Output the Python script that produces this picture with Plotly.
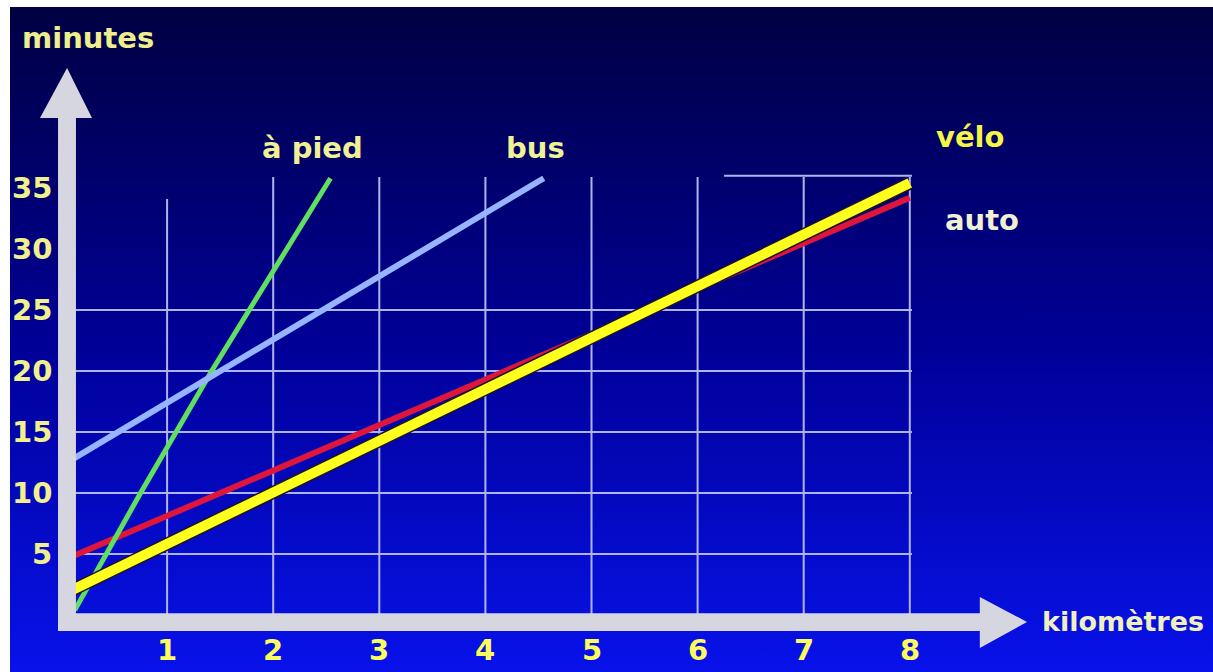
import plotly.graph_objects as go

# temps (minutes) selon la distance (km) pour chaque moyen de transport
apied_km = [0.13, 0.75, 1.42, 2.54]
apied_min = [0.4, 10, 20, 35.8]
bus_km = [0, 4.55]
bus_min = [12.2, 35.8]
auto_km = [0, 8]
auto_min = [4.4, 34.2]
velo_km = [0, 8]
velo_min = [1.6, 35.4]

x_ticks = [1, 2, 3, 4, 5, 6, 7, 8]
y_ticks = [5, 10, 15, 20, 25, 30, 35]
h_grid = [5, 10, 15, 20, 25]

font_bold = dict(family="DejaVu Sans", size=29, weight="bold")
axis_grey = "rgb(214,214,224)"
grid_col = "rgb(175,180,240)"

# pixel -> data scale of the picture
x_lo, x_hi = -61 / 106.1, 1152 / 106.1
y_lo, y_hi = -57 / 12.2, 615 / 12.2

fig = go.Figure()

# background gradient (dark navy at top -> bright blue at bottom), white strip left/top
bg_x0 = x_lo + 10 / 106.1
bg_y1 = y_hi - 7 / 12.2
fig.add_trace(go.Scatter(
    x=[bg_x0, x_hi, x_hi, bg_x0, bg_x0], y=[y_lo, y_lo, bg_y1, bg_y1, y_lo],
    mode="lines", line=dict(width=0), fill="toself", hoverinfo="skip", showlegend=False,
    fillgradient=dict(type="vertical",
                      colorscale=[[0, "rgb(8,18,234)"], [0.5, "rgb(0,0,150)"], [1, "rgb(0,0,66)"]]),
))

# grid
gx, gy = [], []
for k in x_ticks:
    gx += [k, k, None]
    gy += [0, 34.1 if k == 1 else 35.9, None]
for m in h_grid:
    gx += [0, 8.02, None]
    gy += [m, m, None]
gx += [6.25, 8.02]
gy += [36.0, 36.0]
fig.add_trace(go.Scatter(x=gx, y=gy, mode="lines", line=dict(color=grid_col, width=2),
                         hoverinfo="skip", showlegend=False))

# lines
fig.add_trace(go.Scatter(x=auto_km, y=auto_min, mode="lines", name="auto",
                         line=dict(color="rgb(222,22,60)", width=6)))
fig.add_trace(go.Scatter(x=apied_km, y=apied_min, mode="lines", name="à pied",
                         line=dict(color="rgb(95,225,95)", width=5)))
fig.add_trace(go.Scatter(x=bus_km, y=bus_min, mode="lines", name="bus",
                         line=dict(color="rgb(150,180,255)", width=6)))
fig.add_trace(go.Scatter(x=velo_km, y=velo_min, mode="lines", hoverinfo="skip",
                         line=dict(color="rgb(30,20,40)", width=13), showlegend=False))
fig.add_trace(go.Scatter(x=velo_km, y=velo_min, mode="lines", name="vélo",
                         line=dict(color="rgb(255,255,30)", width=10)))

# axis arrows
fig.add_shape(type="rect", x0=-0.028, x1=0.141, y0=-1.31, y1=40.8,
              fillcolor=axis_grey, line_width=0, layer="above")
fig.add_shape(type="path", path="M -0.198,40.74 L 0.292,40.74 L 0.057,44.84 Z",
              fillcolor=axis_grey, line_width=0, layer="above")
fig.add_shape(type="rect", x0=-0.028, x1=8.7, y0=-1.31, y1=0.15,
              fillcolor=axis_grey, line_width=0, layer="above")
fig.add_shape(type="path", path="M 8.66,1.48 L 8.66,-2.7 L 9.105,-0.57 Z",
              fillcolor=axis_grey, line_width=0, layer="above")

# tick labels
for k in x_ticks:
    fig.add_annotation(x=k, y=-2.9, text=str(k), showarrow=False,
                       font=dict(font_bold, color="rgb(252,252,90)"))
for m in y_ticks:
    fig.add_annotation(x=-0.066, y=m, text=str(m), showarrow=False, xanchor="right",
                       font=dict(font_bold, color="rgb(240,240,140)"))

# labels
labels = [
    ("minutes", 0.254, 47.3, "center", 29, "rgb(238,238,140)"),
    ("à pied", 2.37, 38.3, "center", 29, "rgb(240,240,150)"),
    ("bus", 4.47, 38.3, "center", 29, "rgb(240,240,150)"),
    ("vélo", 8.57, 39.2, "center", 29, "rgb(245,245,70)"),
    ("auto", 8.68, 32.4, "center", 29, "rgb(240,240,210)"),
    ("kilomètres", 9.23, -0.57, "left", 27, "rgb(240,240,190)"),
]
for txt, x, y, anc, sz, col in labels:
    fig.add_annotation(x=x, y=y, text=txt, showarrow=False, xanchor=anc,
                       font=dict(font_bold, size=sz, color=col))

fig.update_layout(
    width=1213, height=672,
    margin=dict(l=0, r=0, t=0, b=0, pad=0),
    paper_bgcolor="white", plot_bgcolor="white",
    showlegend=False,
    xaxis=dict(range=[x_lo, x_hi], visible=False, fixedrange=True),
    yaxis=dict(range=[y_lo, y_hi], visible=False, fixedrange=True),
)

fig.write_html("out.html", config={"displayModeBar": False},
               post_script="document.body.style.margin='0';document.body.style.overflow='hidden';")
